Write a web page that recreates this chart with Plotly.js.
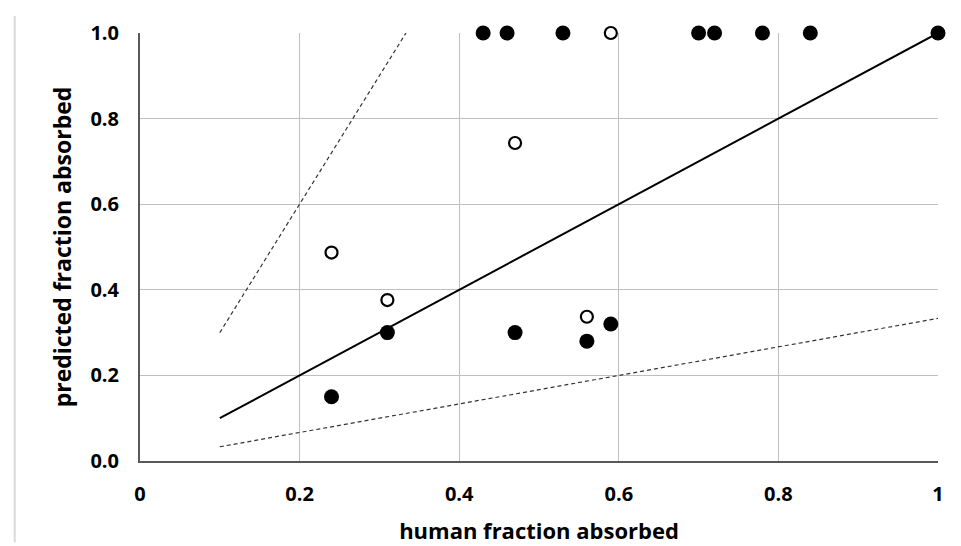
<!DOCTYPE html>
<html><head><meta charset="utf-8">
<script src="https://cdn.plot.ly/plotly-3.0.1.min.js"></script>
<style>html,body{margin:0;padding:0;background:#fff}#c{width:961px;height:546px}</style>
</head><body><div id="c"></div>
<script>
const filledX = [0.43, 0.46, 0.53, 0.70, 0.72, 0.78, 0.84, 1.0, 0.24, 0.31, 0.47, 0.56, 0.59];
const filledY = [1.0, 1.0, 1.0, 1.0, 1.0, 1.0, 1.0, 1.0, 0.15, 0.30, 0.30, 0.28, 0.32];
const openX = [0.59, 0.47, 0.24, 0.31, 0.56];
const openY = [1.0, 0.743, 0.487, 0.376, 0.337];
const identityX = [0.1, 1.0];
const identityY = [0.1, 1.0];
const upperX = [0.1, 0.3333];
const upperY = [0.3, 1.0];
const lowerX = [0.1, 1.0];
const lowerY = [0.0333, 0.3333];
const xTicks = [0, 0.2, 0.4, 0.6, 0.8, 1];
const yTicks = [0, 0.2, 0.4, 0.6, 0.8, 1.0];

const font = "Open Sans, Lato, sans-serif";
const data = [
  {x: upperX, y: upperY, mode: 'lines', line: {color: '#333', width: 1.2, dash: '4px,3px'}, hoverinfo: 'skip', cliponaxis: false},
  {x: lowerX, y: lowerY, mode: 'lines', line: {color: '#333', width: 1.2, dash: '4px,3px'}, hoverinfo: 'skip', cliponaxis: false},
  {x: identityX, y: identityY, mode: 'lines', line: {color: '#000', width: 2}, cliponaxis: false},
  {x: filledX, y: filledY, mode: 'markers', marker: {size: 15, color: '#000'}, cliponaxis: false},
  {x: openX, y: openY, mode: 'markers', marker: {size: 12, color: '#fff', line: {color: '#000', width: 2.2}}, cliponaxis: false}
];
const layout = {
  width: 961, height: 546,
  margin: {l: 140, r: 23, t: 33, b: 85},
  showlegend: false,
  paper_bgcolor: '#fff', plot_bgcolor: '#fff',
  font: {family: font, color: '#000'},
  xaxis: {
    range: [0, 1], tickvals: xTicks, ticktext: xTicks.map(v => String(v)),
    showgrid: true, gridcolor: '#bfbfbf', gridwidth: 1, zeroline: false,
    showline: true, linecolor: '#595959', linewidth: 2, ticks: '',
    tickfont: {size: 20, family: font, weight: 'bold'}, ticklabelstandoff: 14,
    title: {text: 'human fraction absorbed', font: {size: 22, family: font, weight: 'bold'}, standoff: 18}
  },
  yaxis: {
    range: [0, 1], tickvals: yTicks, ticktext: yTicks.map(v => v.toFixed(1)),
    showgrid: true, gridcolor: '#bfbfbf', gridwidth: 1, zeroline: false,
    showline: true, linecolor: '#595959', linewidth: 2, ticks: '',
    tickfont: {size: 20, family: font, weight: 'bold'}, ticklabelstandoff: 15,
    title: {text: 'predicted fraction absorbed', font: {size: 23, family: font, weight: 'bold'}, standoff: 12}
  },
  shapes: [
    {type: 'line', xref: 'paper', yref: 'paper', x0: -0.157, x1: -0.157, y0: -0.19, y1: 1.04, line: {color: '#d9d9d9', width: 2}}
  ]
};
Plotly.newPlot('c', data, layout, {staticPlot: true});
</script></body></html>
